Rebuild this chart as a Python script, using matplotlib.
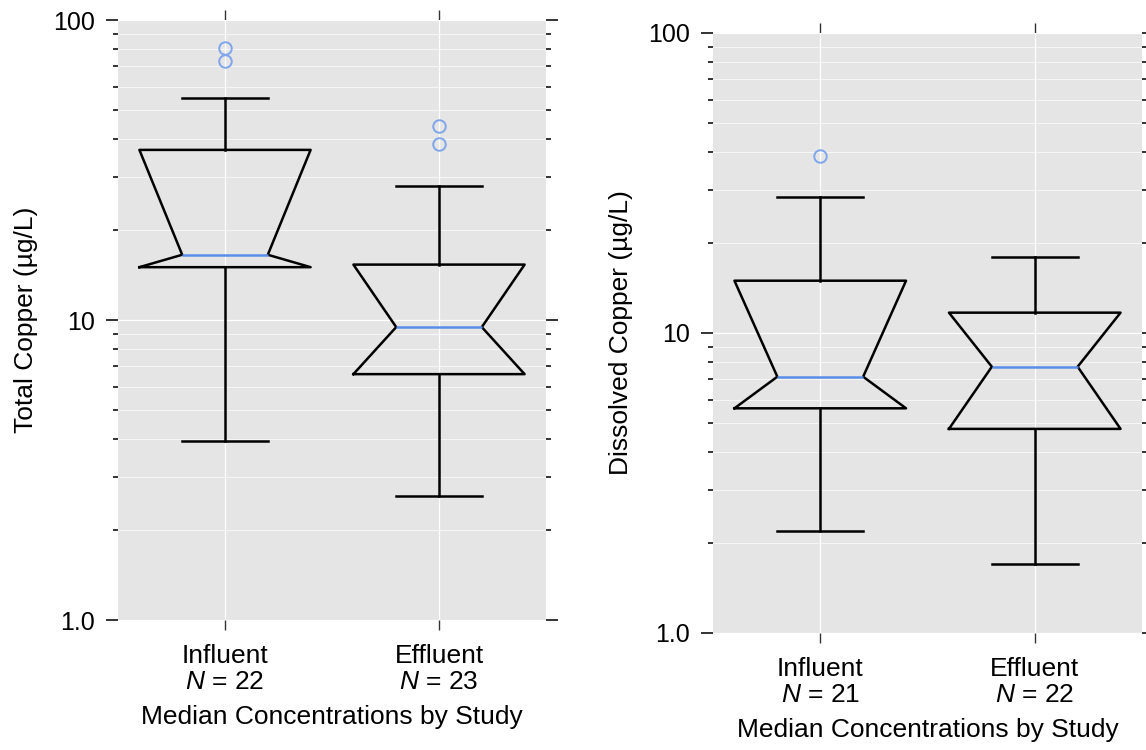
import matplotlib
matplotlib.use("Agg")
import matplotlib.pyplot as plt
from matplotlib.ticker import FixedLocator, FixedFormatter, LogLocator, NullFormatter

plt.rcParams["font.family"] = ["Liberation Sans", "DejaVu Sans"]
plt.rcParams["mathtext.fontset"] = "custom"
plt.rcParams["mathtext.it"] = "Liberation Sans:italic"
plt.rcParams["mathtext.rm"] = "Liberation Sans"

# Summary statistics (µg/L) per panel: Influent, Effluent
groups = ["Influent", "Effluent"]

total_n = [22, 23]
total_whislo = [3.95, 2.59]
total_q1 = [15.0, 6.6]
total_med = [16.5, 9.47]
total_q3 = [36.9, 15.3]
total_whishi = [55.0, 28.0]
total_fliers = [[73.0, 80.7], [38.6, 44.3]]

diss_n = [21, 22]
diss_whislo = [2.19, 1.70]
diss_q1 = [5.61, 4.79]
diss_med = [7.15, 7.72]
diss_q3 = [14.94, 11.69]
diss_whishi = [28.4, 17.9]
diss_fliers = [[38.9], []]

BG = "#e5e5e5"
TICK = "#333333"
MED = "#5a8de8"
FLIER = "#7fa5ea"
LW = 1.8


def make_stats(whislo, q1, med, q3, whishi, fliers):
    stats = []
    for i in range(len(med)):
        stats.append(dict(med=med[i], q1=q1[i], q3=q3[i],
                          cilo=q1[i], cihi=q3[i],
                          whislo=whislo[i], whishi=whishi[i],
                          fliers=fliers[i], label=""))
    return stats


def draw_panel(ax, stats, counts, ylabel):
    ax.set_facecolor(BG)
    ax.bxp(stats, positions=[1, 2], widths=0.8, shownotches=True,
           boxprops=dict(color="black", linewidth=LW),
           whiskerprops=dict(color="black", linewidth=LW),
           capprops=dict(color="black", linewidth=LW),
           medianprops=dict(color=MED, linewidth=LW),
           flierprops=dict(marker="o", markersize=9, markerfacecolor="none",
                           markeredgecolor=FLIER, markeredgewidth=1.4))
    ax.set_yscale("log")
    ax.set_ylim(1, 100)
    ax.set_xlim(0.5, 2.5)

    ax.yaxis.set_major_locator(FixedLocator([1, 10, 100]))
    ax.yaxis.set_major_formatter(FixedFormatter(["1.0", "10", "100"]))
    ax.yaxis.set_minor_locator(LogLocator(base=10, subs=range(2, 10)))
    ax.yaxis.set_minor_formatter(NullFormatter())

    ax.set_xticks([1, 2])
    ax.set_xticklabels([f"{g}\n$N$ = {n}" for g, n in zip(groups, counts)],
                       fontsize=19, linespacing=1.12)

    for s in ax.spines.values():
        s.set_visible(False)

    ax.grid(True, which="major", color="white", linewidth=0.9)
    ax.grid(True, which="minor", axis="y", color="white", linewidth=0.7, alpha=0.7)
    ax.set_axisbelow(True)

    ax.tick_params(axis="y", which="major", direction="out", length=8.5, width=1.4,
                   color=TICK, left=True, right=True, labelsize=18, pad=8)
    ax.tick_params(axis="y", which="minor", direction="out", length=3.5, width=1.4,
                   color=TICK, left=True, right=True)
    ax.tick_params(axis="x", which="major", direction="out", length=7, width=1.0,
                   color=TICK, top=True, bottom=True, pad=10)
    ax.tick_params(axis="x", which="minor", bottom=False, top=False)

    ax.set_xlabel("Median Concentrations by Study", fontsize=19, labelpad=8)
    ax.set_ylabel(ylabel, fontsize=19, labelpad=11)


fig = plt.figure(figsize=(11.46, 7.5), dpi=100)
ax1 = fig.add_axes([0.10297, 0.17333, 0.37347, 0.8])
ax2 = fig.add_axes([0.62216, 0.156, 0.37435, 0.8])

draw_panel(ax1, make_stats(total_whislo, total_q1, total_med, total_q3,
                           total_whishi, total_fliers),
           total_n, "Total Copper (µg/L)")
draw_panel(ax2, make_stats(diss_whislo, diss_q1, diss_med, diss_q3,
                           diss_whishi, diss_fliers),
           diss_n, "Dissolved Copper (µg/L)")

fig.savefig("out.png", dpi=100)
